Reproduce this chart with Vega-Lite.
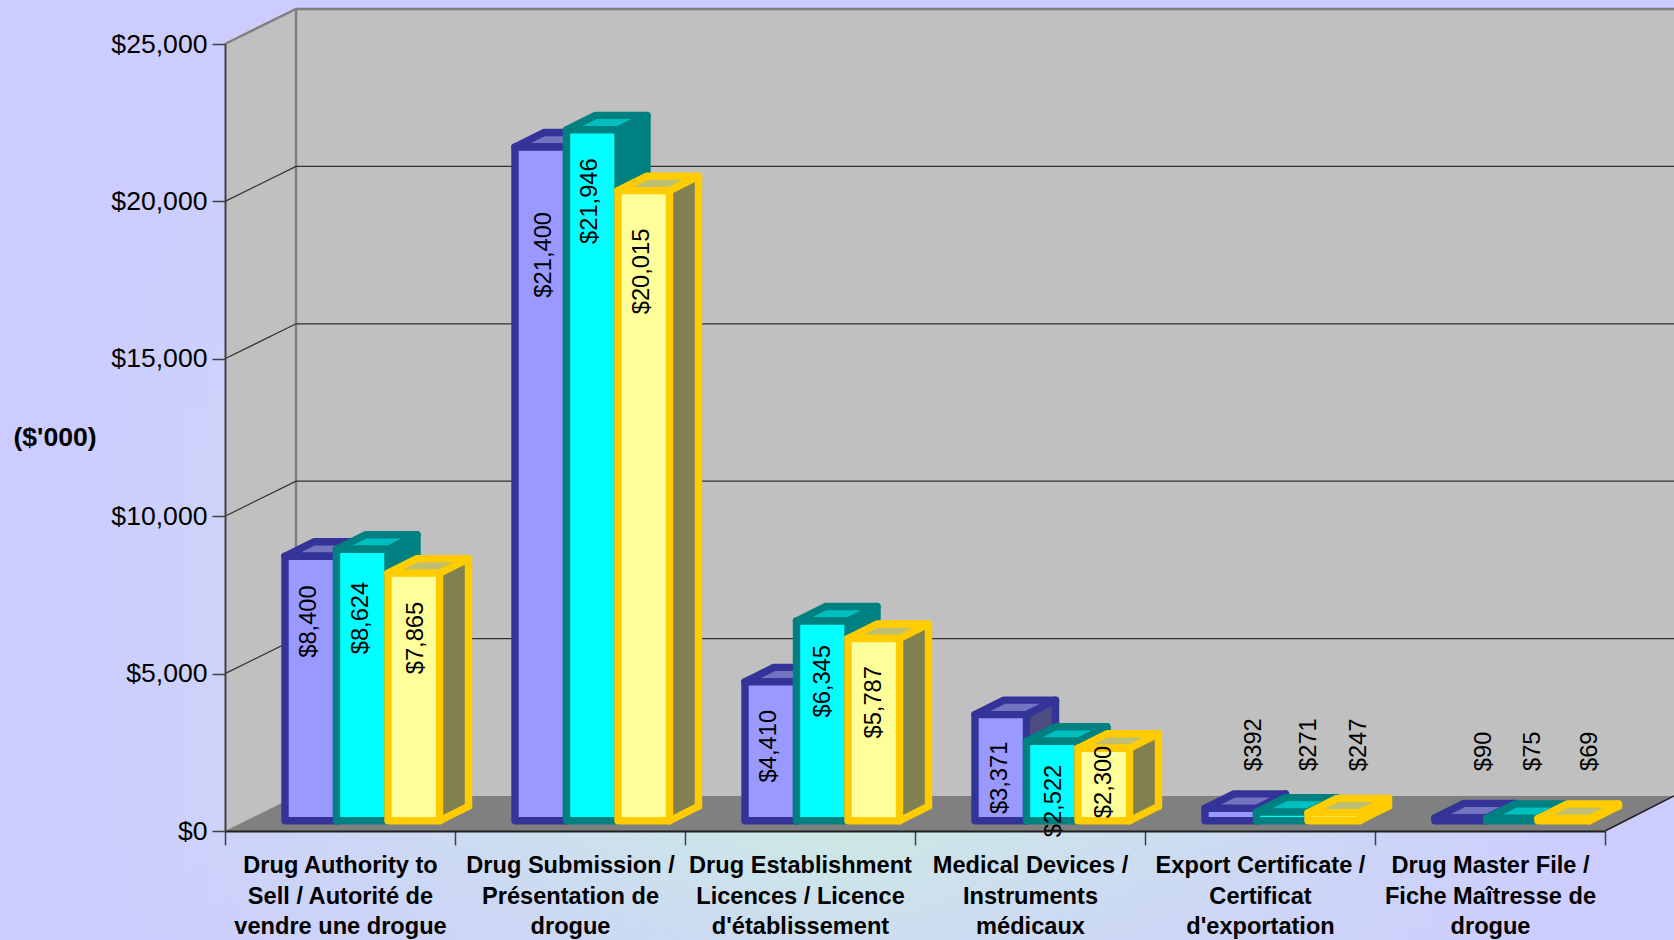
{"$schema":"https://vega.github.io/schema/vega-lite/v6.json","width":1380,"height":787,"autosize":"none","padding":{"left":225,"top":44,"right":69,"bottom":109},"background":"#ccccff","config":{"view":{"stroke":null},"text":{"angle":270,"fontSize":23.7,"font":"Liberation Sans","color":"#000000","baseline":"middle"}},
"data":{"values":[
{"category":"Drug Authority to\nSell / Autorité de\nvendre une drogue","series":"A","value":8400},
{"category":"Drug Authority to\nSell / Autorité de\nvendre une drogue","series":"B","value":8624},
{"category":"Drug Authority to\nSell / Autorité de\nvendre une drogue","series":"C","value":7865},
{"category":"Drug Submission /\nPrésentation de\ndrogue","series":"A","value":21400},
{"category":"Drug Submission /\nPrésentation de\ndrogue","series":"B","value":21946},
{"category":"Drug Submission /\nPrésentation de\ndrogue","series":"C","value":20015},
{"category":"Drug Establishment\nLicences / Licence\nd'établissement","series":"A","value":4410},
{"category":"Drug Establishment\nLicences / Licence\nd'établissement","series":"B","value":6345},
{"category":"Drug Establishment\nLicences / Licence\nd'établissement","series":"C","value":5787},
{"category":"Medical Devices /\nInstruments\nmédicaux","series":"A","value":3371},
{"category":"Medical Devices /\nInstruments\nmédicaux","series":"B","value":2522},
{"category":"Medical Devices /\nInstruments\nmédicaux","series":"C","value":2300},
{"category":"Export Certificate /\nCertificat\nd'exportation","series":"A","value":392},
{"category":"Export Certificate /\nCertificat\nd'exportation","series":"B","value":271},
{"category":"Export Certificate /\nCertificat\nd'exportation","series":"C","value":247},
{"category":"Drug Master File /\nFiche Maîtresse de\ndrogue","series":"A","value":90},
{"category":"Drug Master File /\nFiche Maîtresse de\ndrogue","series":"B","value":75},
{"category":"Drug Master File /\nFiche Maîtresse de\ndrogue","series":"C","value":69}
]},
"encoding":{
"x":{"field":"category","type":"nominal","title":null,"sort":null,"scale":{"type":"band","paddingInner":0,"paddingOuter":0,"domain":["Drug Authority to\nSell / Autorité de\nvendre une drogue","Drug Submission /\nPrésentation de\ndrogue","Drug Establishment\nLicences / Licence\nd'établissement","Medical Devices /\nInstruments\nmédicaux","Export Certificate /\nCertificat\nd'exportation","Drug Master File /\nFiche Maîtresse de\ndrogue"]},"axis":{"orient":"bottom","zindex":1,"labelAngle":0,"labelExpr":"split(datum.label,'\\n')","labelFont":"Liberation Sans","labelFontWeight":"bold","labelFontSize":23.6,"labelColor":"#000000","labelLineHeight":30.7,"labelPadding":8.5,"labelLimit":0,"labelBaseline":"top","tickBand":"extent","tickSize":14,"tickColor":"#404040","tickWidth":1.5,"domainColor":"#202020","domainWidth":2}},
"y":{"field":"value","type":"quantitative","stack":null,"scale":{"domain":[0,25000],"nice":false},"axis":{"zindex":1,"values":[0,5000,10000,15000,20000,25000],"format":"$,.0f","grid":false,"labelFont":"Liberation Sans","labelFontSize":26.6,"labelColor":"#000000","labelPadding":5,"tickSize":13,"tickColor":"#404040","tickWidth":1.5,"domainColor":"#404040","domainWidth":2,"title":"($'000)","titleFont":"Liberation Sans","titleFontSize":26.6,"titleFontWeight":"bold","titleColor":"#000000","titleAngle":0,"titleAlign":"center","titleBaseline":"middle","titleX":-170.5,"titleY":393}}
},
"layer":[
{"transform":[{"filter":"datum.value==8400"}],"encoding":{"y":{"datum":0,"type":"quantitative"}},"layer":[
{"mark":{"type":"point","size":4,"opacity":1,"strokeWidth":0,"fill":{"gradient":"linear","x1":0,"y1":0,"x2":1,"y2":0,"stops":[{"offset":0,"color":"#ccccff"},{"offset":0.03,"color":"#ccccff"},{"offset":0.5,"color":"#cceae4"},{"offset":0.97,"color":"#ccccff"},{"offset":1,"color":"#ccccff"}]},"shape":"M-340,-831 H1334 V109 H-340 Z"}},
{"mark":{"type":"point","size":4,"opacity":1,"strokeWidth":0,"fill":{"gradient":"linear","x1":0,"y1":0,"x2":0,"y2":1,"stops":[{"offset":0,"color":"rgba(204,204,255,1)"},{"offset":0.5,"color":"rgba(204,204,255,0)"},{"offset":0.88,"color":"rgba(204,204,255,0)"},{"offset":1,"color":"rgba(204,204,255,0.4)"}]},"shape":"M-340,-831 H1334 V109 H-340 Z"}},
{"mark":{"type":"point","size":4,"opacity":1,"strokeWidth":0,"fill":"#c0c0c0","shape":"M-115,0 V-787 L-44,-822 H1334 V-35 L1265,0 Z"}},
{"mark":{"type":"point","size":4,"opacity":1,"strokeWidth":0,"fill":"#808080","shape":"M-115,0 L-44,-35 H1334 L1265,0 Z"}},
{"mark":{"type":"point","size":4,"opacity":1,"fill":"transparent","stroke":"#808080","strokeWidth":2.5,"shape":"M-115,-787 L-44,-822 H1334 M-44,-822 V-35"}},
{"mark":{"type":"point","size":4,"opacity":1,"fill":"transparent","stroke":"#202020","strokeWidth":1.5,"shape":"M1265,0 L1334,-35"}}
]},
{"data":{"values":[
{"category":"Drug Authority to\nSell / Autorité de\nvendre une drogue","tick":5000},
{"category":"Drug Authority to\nSell / Autorité de\nvendre une drogue","tick":10000},
{"category":"Drug Authority to\nSell / Autorité de\nvendre une drogue","tick":15000},
{"category":"Drug Authority to\nSell / Autorité de\nvendre une drogue","tick":20000}
]},"encoding":{"y":{"field":"tick","type":"quantitative"}},"mark":{"type":"point","size":4,"opacity":1,"fill":"transparent","stroke":"#303030","strokeWidth":1.2,"shape":"M-115,0 L-44,-35 H1334"}},

{"transform":[{"filter":"datum.series=='A'"}],"layer":[
{"mark":{"type":"bar","width":29,"xOffset":11,"yOffset":-24.8,"y2Offset":-10.3,"fill":"#4d4d80"},"encoding":{"y2":{"datum":0}}},
{"encoding":{"y":{"datum":0,"type":"quantitative"}},"mark":{"type":"point","xOffset":-29.25,"size":4,"opacity":1,"strokeWidth":0,"fill":"#808080","shape":"M25.75,-10.3 L54.75,-24.8 V-9.3 H25.75 Z"}},
{"encoding":{"y":{"datum":0,"type":"quantitative"}},"mark":{"type":"point","xOffset":-29.25,"size":4,"opacity":1,"fill":"transparent","stroke":"#333399","strokeWidth":7.4,"strokeCap":"round","shape":"M25.75,-10.3 L54.75,-24.8"}},
{"mark":{"type":"rule","xOffset":25.5,"yOffset":-24.8,"y2Offset":-24.8,"stroke":"#333399","strokeWidth":7.4,"strokeCap":"round"},"encoding":{"y2":{"datum":0}}},
{"mark":{"type":"point","xOffset":-29.25,"size":4,"opacity":1,"fill":"#7373bf","stroke":"#333399","strokeWidth":7.4,"strokeJoin":"round","shape":"M-25.75,-10.3 L25.75,-10.3 L54.75,-24.8 L3.25,-24.8 Z"}},
{"mark":{"type":"bar","width":51.5,"xOffset":-29.25,"yOffset":-10.3,"y2Offset":-10.3,"fill":"#9999ff","stroke":"#333399","strokeWidth":7.4,"strokeJoin":"round"},"encoding":{"y2":{"datum":0}}}
]},
{"transform":[{"filter":"datum.series=='B'"}],"layer":[
{"mark":{"type":"bar","width":29,"xOffset":62.5,"yOffset":-24.8,"y2Offset":-10.3,"fill":"#008080"},"encoding":{"y2":{"datum":0}}},
{"encoding":{"y":{"datum":0,"type":"quantitative"}},"mark":{"type":"point","xOffset":22.25,"size":4,"opacity":1,"strokeWidth":0,"fill":"#808080","shape":"M25.75,-10.3 L54.75,-24.8 V-9.3 H25.75 Z"}},
{"encoding":{"y":{"datum":0,"type":"quantitative"}},"mark":{"type":"point","xOffset":22.25,"size":4,"opacity":1,"fill":"transparent","stroke":"#008080","strokeWidth":7.4,"strokeCap":"round","shape":"M25.75,-10.3 L54.75,-24.8"}},
{"mark":{"type":"rule","xOffset":77,"yOffset":-24.8,"y2Offset":-24.8,"stroke":"#008080","strokeWidth":7.4,"strokeCap":"round"},"encoding":{"y2":{"datum":0}}},
{"mark":{"type":"point","xOffset":22.25,"size":4,"opacity":1,"fill":"#00bfbf","stroke":"#008080","strokeWidth":7.4,"strokeJoin":"round","shape":"M-25.75,-10.3 L25.75,-10.3 L54.75,-24.8 L3.25,-24.8 Z"}},
{"mark":{"type":"bar","width":51.5,"xOffset":22.25,"yOffset":-10.3,"y2Offset":-10.3,"fill":"#00ffff","stroke":"#008080","strokeWidth":7.4,"strokeJoin":"round"},"encoding":{"y2":{"datum":0}}}
]},
{"transform":[{"filter":"datum.series=='C'"}],"layer":[
{"mark":{"type":"bar","width":29,"xOffset":114,"yOffset":-24.8,"y2Offset":-10.3,"fill":"#808050"},"encoding":{"y2":{"datum":0}}},
{"encoding":{"y":{"datum":0,"type":"quantitative"}},"mark":{"type":"point","xOffset":73.75,"size":4,"opacity":1,"strokeWidth":0,"fill":"#808080","shape":"M25.75,-10.3 L54.75,-24.8 V-9.3 H25.75 Z"}},
{"encoding":{"y":{"datum":0,"type":"quantitative"}},"mark":{"type":"point","xOffset":73.75,"size":4,"opacity":1,"fill":"transparent","stroke":"#ffcc00","strokeWidth":7.4,"strokeCap":"round","shape":"M25.75,-10.3 L54.75,-24.8"}},
{"mark":{"type":"rule","xOffset":128.5,"yOffset":-24.8,"y2Offset":-24.8,"stroke":"#ffcc00","strokeWidth":7.4,"strokeCap":"round"},"encoding":{"y2":{"datum":0}}},
{"mark":{"type":"point","xOffset":73.75,"size":4,"opacity":1,"fill":"#bfbf73","stroke":"#ffcc00","strokeWidth":7.4,"strokeJoin":"round","shape":"M-25.75,-10.3 L25.75,-10.3 L54.75,-24.8 L3.25,-24.8 Z"}},
{"mark":{"type":"bar","width":51.5,"xOffset":73.75,"yOffset":-10.3,"y2Offset":-10.3,"fill":"#ffff99","stroke":"#ffcc00","strokeWidth":7.4,"strokeJoin":"round"},"encoding":{"y2":{"datum":0}}}
]},

{"encoding":{"text":{"field":"value","type":"quantitative","format":"$,.0f"}},"layer":[
{"transform":[{"filter":"datum.value==8400"}],"mark":{"type":"text","xOffset":-31,"yOffset":55}},
{"transform":[{"filter":"datum.value==8624"}],"mark":{"type":"text","xOffset":21,"yOffset":58.5}},
{"transform":[{"filter":"datum.value==7865"}],"mark":{"type":"text","xOffset":76,"yOffset":54.6}},
{"transform":[{"filter":"datum.value==21400"}],"mark":{"type":"text","xOffset":-26.5,"yOffset":97.5}},
{"transform":[{"filter":"datum.value==21946"}],"mark":{"type":"text","xOffset":19.5,"yOffset":61}},
{"transform":[{"filter":"datum.value==20015"}],"mark":{"type":"text","xOffset":72,"yOffset":70.5}},
{"transform":[{"filter":"datum.value==4410"}],"mark":{"type":"text","xOffset":-31,"yOffset":54}},
{"transform":[{"filter":"datum.value==6345"}],"mark":{"type":"text","xOffset":23,"yOffset":50}},
{"transform":[{"filter":"datum.value==5787"}],"mark":{"type":"text","xOffset":74,"yOffset":53.5}},
{"transform":[{"filter":"datum.value==3371"}],"mark":{"type":"text","xOffset":-30,"yOffset":53}},
{"transform":[{"filter":"datum.value==2522"}],"mark":{"type":"text","xOffset":23.6,"yOffset":49.4}},
{"transform":[{"filter":"datum.value==2300"}],"mark":{"type":"text","xOffset":74,"yOffset":23.4}},
{"transform":[{"filter":"datum.value==392"}],"mark":{"type":"text","align":"left","xOffset":-6,"yOffset":-47.7}},
{"transform":[{"filter":"datum.value==271"}],"mark":{"type":"text","align":"left","xOffset":49,"yOffset":-51.5}},
{"transform":[{"filter":"datum.value==247"}],"mark":{"type":"text","align":"left","xOffset":99,"yOffset":-52}},
{"transform":[{"filter":"datum.value==90"}],"mark":{"type":"text","align":"left","xOffset":-6,"yOffset":-57}},
{"transform":[{"filter":"datum.value==75"}],"mark":{"type":"text","align":"left","xOffset":43,"yOffset":-57.6}},
{"transform":[{"filter":"datum.value==69"}],"mark":{"type":"text","align":"left","xOffset":99.5,"yOffset":-57.8}}
]}
]}
